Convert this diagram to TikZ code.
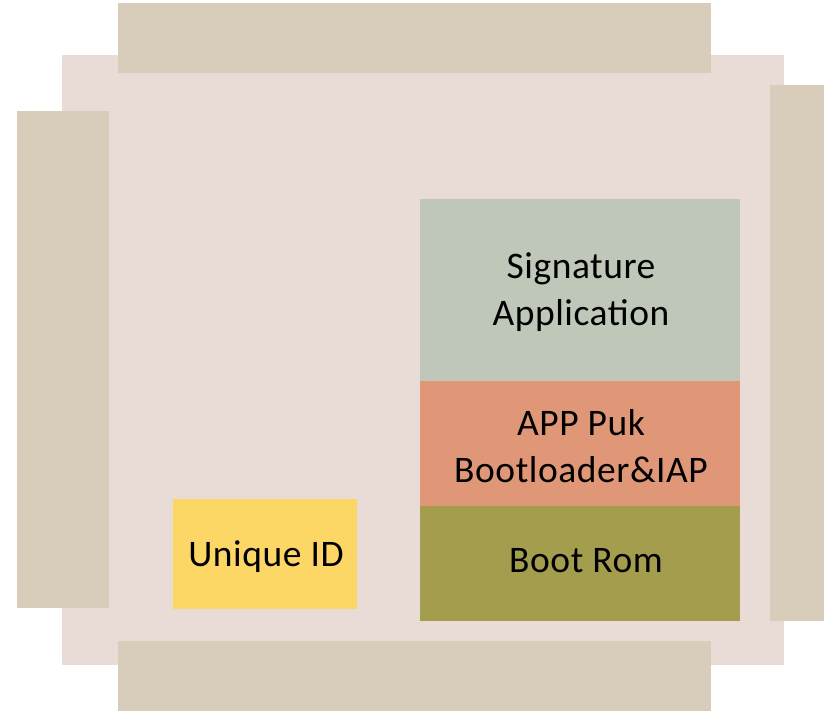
\documentclass[tikz,border=0pt]{standalone}
\usepackage{fontspec}
\setmainfont{Carlito}[LetterSpace=1.5]
\definecolor{chipbody}{HTML}{E9DBD5}
\definecolor{chippad}{HTML}{D8CCBA}
\definecolor{sigapp}{HTML}{BFC7B8}
\definecolor{bootld}{HTML}{E09778}
\definecolor{bootrom}{HTML}{A39D4D}
\definecolor{uid}{HTML}{FDD766}
\begin{document}
\begin{tikzpicture}[x=1pt,y=-1pt,
  block/.style={inner sep=0pt,align=center,font=\fontsize{37.5}{47}\selectfont,text=black}]
\useasboundingbox (0,0) rectangle (827,711);
% chip body and pin strips
\fill[chipbody] (62,55) rectangle (784,665);
\fill[chippad] (118,3) rectangle (711,73);
\fill[chippad] (118,641) rectangle (711,711);
\fill[chippad] (17,111) rectangle (109,608);
\fill[chippad] (770,85) rectangle (824,621);
% memory stack
\fill[sigapp] (420,199) rectangle (740,381);
\fill[bootld] (420,381) rectangle (740,506);
\fill[bootrom] (420,506) rectangle (740,621);
\node[block] (sig) at (581,292) {Signature\\Application};
\node[block] (puk) at (581,446) {APP Puk\\Bootloader\&IAP};
\node[block] (rom) at (586,561) {Boot Rom};
% unique id
\fill[uid] (173,499) rectangle (357,609);
\node[block] (id) at (266,557) {Unique ID};
\end{tikzpicture}
\end{document}
